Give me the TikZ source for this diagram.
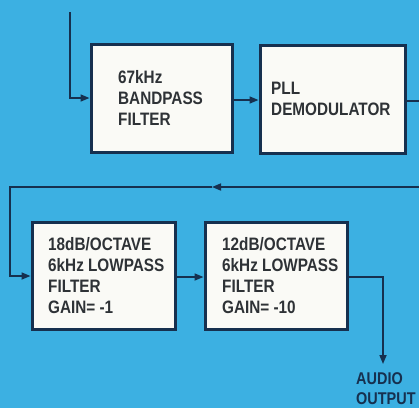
\documentclass[tikz,border=0pt]{standalone}
\usepackage{fontspec}
\usetikzlibrary{arrows.meta}
\newfontfamily\labfont[FakeStretch=0.85]{Liberation Sans}
\definecolor{bgblue}{HTML}{3CB0E2}
\definecolor{linecol}{HTML}{16304F}
\definecolor{txtcol}{HTML}{2E3236}
\definecolor{boxfill}{HTML}{FAFAF6}
\begin{document}
\begin{tikzpicture}[x=1pt,y=-1pt,
  blk/.style={draw=linecol,line width=3pt,fill=boxfill,inner sep=0pt},
  lbl/.style={font=\labfont\bfseries\fontsize{18}{21}\selectfont,text=txtcol,align=left,anchor=north west,inner sep=0pt},
  outlbl/.style={font=\labfont\bfseries\fontsize{17}{20}\selectfont,text=linecol,align=left,anchor=north west,inner sep=0pt},
  conn/.style={draw=linecol,line width=1.6pt},
  arr/.style={conn,-{Triangle[length=9pt,width=7pt]}}]
\fill[bgblue] (0,0) rectangle (419,408);
\useasboundingbox (0,0) rectangle (419,408);
% boxes
\node[blk,minimum width=141pt,minimum height=108pt] (b1) at (161.5,98) {};
\node[blk,minimum width=145pt,minimum height=108pt] (b2) at (332.5,99.5) {};
\node[blk,minimum width=143pt,minimum height=107pt] (b3) at (103.5,275.5) {};
\node[blk,minimum width=142pt,minimum height=107pt] (b4) at (276,275.5) {};
% labels
\node[lbl] (t1) at (118,70) {67kHz\\BANDPASS\\FILTER};
\node[lbl] (t2) at (271,82) {PLL\\DEMODULATOR};
\node[lbl] (t3) at (48,237) {18dB/OCTAVE\\6kHz LOWPASS\\FILTER\\GAIN= -1};
\node[lbl] (t4) at (222,237) {12dB/OCTAVE\\6kHz LOWPASS\\FILTER\\GAIN= -10};
\node[outlbl] (t5) at (356,372) {AUDIO\\OUTPUT};
% coordinates
\coordinate (in) at (70,12);
\coordinate (b2out) at (419,101);
\coordinate (fbR) at (419,187);
\coordinate (fbM) at (212,187);
\coordinate (fbL) at (10,187);
\coordinate (outc) at (383,277);
\coordinate (outE) at (383,364);
% connectors
\draw[arr] (in) |- (b1.west);
\draw[arr] (b1.east |- 0,100) -- (b2.west |- 0,100);
\draw[conn] (b2.east |- b2out) -- (b2out);
\draw[arr] (fbR) -- (fbM);
\draw[arr] (fbM) -- (fbL) |- (b3.west |- 0,276);
\draw[arr] (b3.east |- 0,277) -- (b4.west |- 0,277);
\draw[arr] (b4.east |- outc) -- (outc) -- (outE);
\end{tikzpicture}
\end{document}
